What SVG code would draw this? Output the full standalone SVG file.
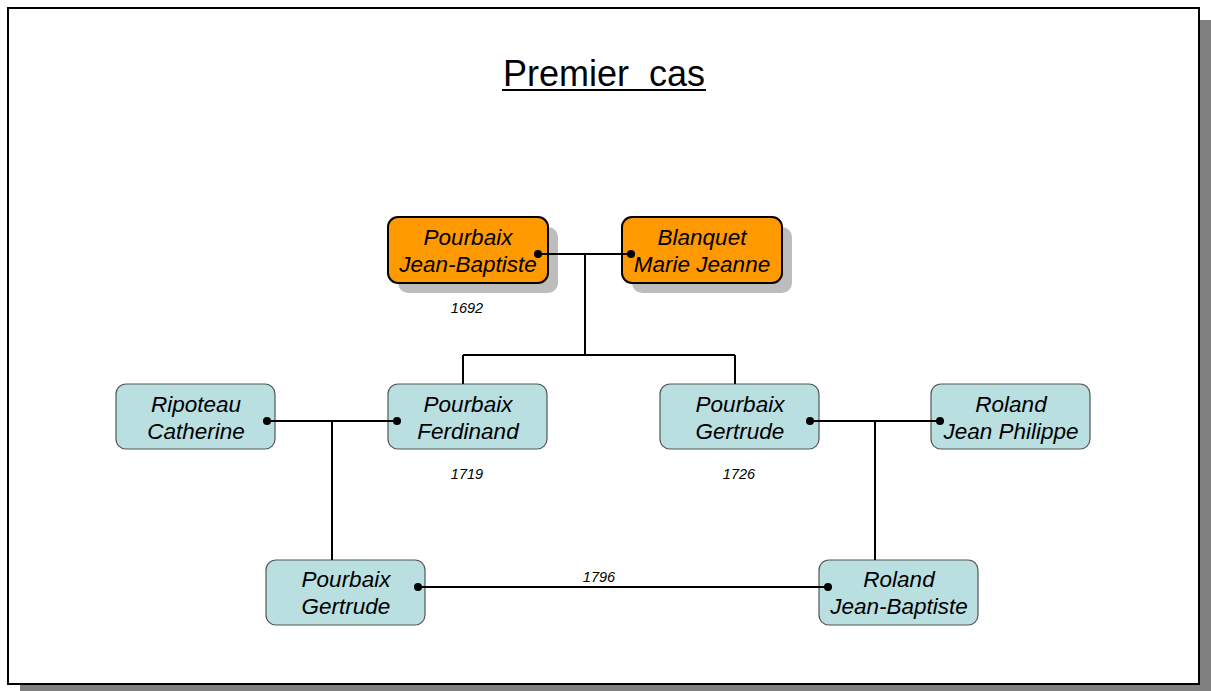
<svg xmlns="http://www.w3.org/2000/svg" width="1211" height="691" viewBox="0 0 1211 691">
<style>
.nt{font-family:"Liberation Sans",Arial,sans-serif;font-style:italic;font-size:22.5px;text-anchor:middle;fill:#000}
.yr{font-family:"Liberation Sans",Arial,sans-serif;font-style:italic;font-size:14.5px;text-anchor:middle;fill:#000}
.or{fill:#FF9900;stroke:#000;stroke-width:2}
.bl{fill:#B9DFE1;stroke:#555;stroke-width:1.2}
.sh{fill:#BDBDBD}
.ln{stroke:#000;stroke-width:2;fill:none}
</style>
<rect x="20" y="20" width="1191" height="671" fill="#808080"/>
<rect x="8" y="8" width="1191" height="676" fill="#fff" stroke="#000" stroke-width="2"/>
<g id="title">
<text x="604" y="86" font-family="Liberation Sans,Arial,sans-serif" font-size="36" text-anchor="middle" xml:space="preserve">Premier  cas</text>
<line x1="502" y1="90" x2="706" y2="90" stroke="#000" stroke-width="2"/>
</g>
<g id="n-pourbaix-jb">
<rect class="sh" x="398" y="227" width="160" height="66" rx="10"/>
<rect class="or" x="388" y="217" width="160" height="66" rx="10"/>
<text class="nt" x="468" y="245">Pourbaix</text>
<text class="nt" x="468" y="272">Jean-Baptiste</text>
</g>
<g id="n-blanquet">
<rect class="sh" x="632" y="227" width="160" height="66" rx="10"/>
<rect class="or" x="622" y="217" width="160" height="66" rx="10"/>
<text class="nt" x="702" y="245">Blanquet</text>
<text class="nt" x="702" y="272">Marie Jeanne</text>
</g>
<g id="n-ripoteau">
<rect class="bl" x="116" y="384" width="159" height="65" rx="10"/>
<text class="nt" x="196" y="412">Ripoteau</text>
<text class="nt" x="196" y="439">Catherine</text>
</g>
<g id="n-ferdinand">
<rect class="bl" x="388" y="384" width="159" height="65" rx="10"/>
<text class="nt" x="468" y="412">Pourbaix</text>
<text class="nt" x="468" y="439">Ferdinand</text>
</g>
<g id="n-gertrude1">
<rect class="bl" x="660" y="384" width="159" height="65" rx="10"/>
<text class="nt" x="740" y="412">Pourbaix</text>
<text class="nt" x="740" y="439">Gertrude</text>
</g>
<g id="n-roland-jp">
<rect class="bl" x="931" y="384" width="159" height="65" rx="10"/>
<text class="nt" x="1011" y="412">Roland</text>
<text class="nt" x="1011" y="439">Jean Philippe</text>
</g>
<g id="n-gertrude2">
<rect class="bl" x="266" y="560" width="159" height="65" rx="10"/>
<text class="nt" x="346" y="587">Pourbaix</text>
<text class="nt" x="346" y="614">Gertrude</text>
</g>
<g id="n-roland-jb">
<rect class="bl" x="819" y="560" width="159" height="65" rx="10"/>
<text class="nt" x="899" y="587">Roland</text>
<text class="nt" x="899" y="614">Jean-Baptiste</text>
</g>
<g id="connectors">
<path class="ln" d="M538 254H631M585 254V355M463 355H735M463 355V384M735 355V384"/>
<path class="ln" d="M267 421H397M332 421V560"/>
<path class="ln" d="M810 421H940M875 421V560"/>
<path class="ln" d="M418 587H828"/>
<g fill="#000">
<circle cx="538" cy="254" r="4"/><circle cx="631" cy="254" r="4"/>
<circle cx="267" cy="421" r="4"/><circle cx="397" cy="421" r="4"/>
<circle cx="810" cy="421" r="4"/><circle cx="940" cy="421" r="4"/>
<circle cx="418" cy="587" r="4"/><circle cx="828" cy="587" r="4"/>
</g>
<text class="yr" x="467" y="313">1692</text>
<text class="yr" x="467" y="479">1719</text>
<text class="yr" x="739" y="479">1726</text>
<text class="yr" x="599" y="582">1796</text>
</g>
</svg>
